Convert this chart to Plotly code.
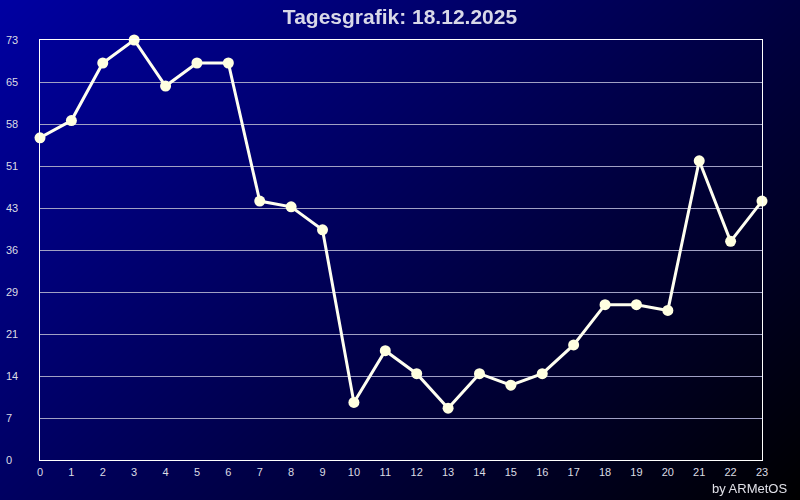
import plotly.graph_objects as go
import numpy as np

hours = list(range(24))
values = [56, 59, 69, 73, 65, 69, 69, 45, 44, 40, 10, 19, 15, 9, 15, 13, 15, 20, 27, 27, 26, 52, 38, 45]
ytick_vals = [0, 7.3, 14.6, 21.9, 29.2, 36.5, 43.8, 51.1, 58.4, 65.7, 73]
ytick_text = ["0", "7", "14", "21", "29", "36", "43", "51", "58", "65", "73"]
title_text = "Tagesgrafik: 18.12.2025"
credit_text = "by ARMetOS"

# background diagonal gradient (decoration)
gx = np.linspace(-0.05, 1.05, 23)
gy = np.linspace(-0.05, 1.05, 23)
GX, GY = np.meshgrid(gx, gy)
GZ = 1 - (0.6 * GX + 0.4 * (1 - GY))

fig = go.Figure()
fig.add_trace(go.Heatmap(x=gx, y=gy, z=GZ, zmin=0, zmax=1, zsmooth="best",
                         colorscale=[[0, "#000000"], [1, "#0000a2"]],
                         showscale=False, hoverinfo="skip", xaxis="x", yaxis="y"))

fig.add_trace(go.Scatter(x=hours, y=values, mode="lines+markers",
                         line=dict(color="#fffff0", width=3),
                         marker=dict(color="#ffffe0", size=11),
                         cliponaxis=False, xaxis="x2", yaxis="y2"))

# invisible trace to carry the left-aligned y tick label axis
fig.add_trace(go.Scatter(x=hours, y=values, mode="markers", opacity=0,
                         hoverinfo="skip", xaxis="x2", yaxis="y3"))

tickfont = dict(family="Liberation Sans, Arial, sans-serif", size=11, color="#dcdce4")

fig.update_layout(
    width=800, height=500,
    margin=dict(l=0, r=0, t=0, b=0, pad=0, autoexpand=False),
    paper_bgcolor="#000000", plot_bgcolor="rgba(0,0,0,0)",
    showlegend=False,
    xaxis=dict(domain=[0, 1], range=[0, 1], visible=False, fixedrange=True),
    yaxis=dict(domain=[0, 1], range=[0, 1], visible=False, fixedrange=True),
    xaxis2=dict(domain=[40/800, 762/800], range=[0, 23], anchor="y2",
                tickvals=hours, ticktext=[str(h) for h in hours],
                showgrid=False, zeroline=False, showline=True, mirror=True,
                linecolor="#ffffff", linewidth=1, ticks="", tickfont=tickfont,
                ticklabelstandoff=2, automargin=False),
    yaxis2=dict(domain=[1 - 460/500, 1 - 40/500], range=[0, 73], anchor="x2",
                tickvals=ytick_vals, showticklabels=False,
                showgrid=True, gridcolor="#a0a0c4", gridwidth=1,
                zeroline=False, showline=True, mirror=True,
                linecolor="#ffffff", linewidth=1, ticks="", automargin=False),
    yaxis3=dict(overlaying="y2", side="right", anchor="free", position=4/800,
                range=[0, 73], tickvals=ytick_vals, ticktext=ytick_text,
                showgrid=False, zeroline=False, showline=False, ticks="",
                tickfont=tickfont, ticklabelstandoff=1, automargin=False),
    title=dict(text="<b>" + title_text + "</b>", x=0.5, xanchor="center",
               y=1 - 17/500, yanchor="middle", automargin=False,
               font=dict(family="Liberation Sans, Arial, sans-serif", size=21, color="#d8d8e8")),
    annotations=[dict(text=credit_text, x=789/800, y=1 - 488/500, xref="paper", yref="paper",
                      xanchor="right", yanchor="middle", showarrow=False,
                      font=dict(family="Liberation Sans, Arial, sans-serif", size=13, color="#e0e0e8"))],
)

fig.write_html("out.html", config={"displayModeBar": False},
               post_script="document.body.style.margin='0';document.body.style.overflow='hidden';")
